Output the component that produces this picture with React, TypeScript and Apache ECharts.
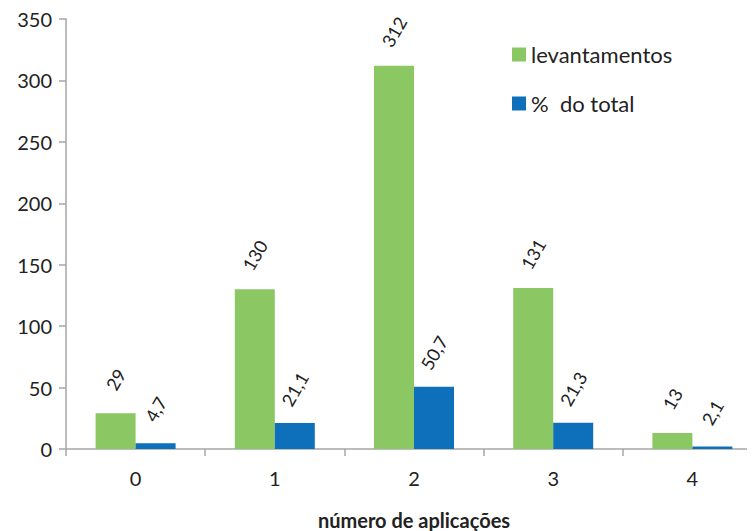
import React, { useEffect, useRef } from "react";
import * as echarts from "echarts";

const categories = ["0", "1", "2", "3", "4"];
const levantamentos = [29, 130, 312, 131, 13];
const percentTotal = [4.7, 21.1, 50.7, 21.3, 2.1];
const yTicks = { min: 0, max: 350, interval: 50 };

const FONT = "Lato, 'Open Sans', sans-serif";

export default function App() {
  const ref = useRef<HTMLDivElement>(null);
  useEffect(() => {
    if (!ref.current) return;
    const chart = echarts.init(ref.current, null, { renderer: "svg" });
    const labelCfg = (fmt: (v: number) => string) => ({
      show: true,
      position: "top",
      distance: 34,
      rotate: 60,
      align: "center",
      verticalAlign: "middle",
      fontFamily: FONT,
      fontSize: 18,
      color: "#222",
      formatter: (p: any) => fmt(p.value),
    });
    chart.setOption({
      animation: false,
      textStyle: { fontFamily: FONT },
      grid: { left: 58, top: 11, width: 696, height: 430, containLabel: false, outerBoundsMode: "none" },
      legend: {
        orient: "vertical",
        left: 504,
        top: 34,
        padding: 0,
        itemWidth: 14,
        itemHeight: 14,
        itemGap: 24,
        icon: "rect",
        textStyle: { fontFamily: FONT, fontSize: 22, lineHeight: 25, color: "#222" },
        data: ["levantamentos", "%  do total"],
      },
      xAxis: {
        type: "category",
        data: categories,
        name: "número de aplicações",
        nameLocation: "middle",
        nameGap: 61,
        nameTextStyle: { fontFamily: FONT, fontSize: 20, fontWeight: "bold", color: "#222" },
        axisLine: { lineStyle: { color: "#a6a6a6", width: 1.5 } },
        axisTick: { show: true, length: 7, lineStyle: { color: "#a6a6a6", width: 1.5 } },
        axisLabel: { fontFamily: FONT, fontSize: 20, color: "#222", margin: 19 },
      },
      yAxis: {
        type: "value",
        min: yTicks.min,
        max: yTicks.max,
        interval: yTicks.interval,
        axisLine: { show: true, lineStyle: { color: "#a6a6a6", width: 1.5 } },
        axisTick: { show: true, length: 7, lineStyle: { color: "#a6a6a6", width: 1.5 } },
        splitLine: { show: false },
        axisLabel: { fontFamily: FONT, fontSize: 20, color: "#222", margin: 14 },
      },
      series: [
        {
          name: "levantamentos",
          type: "bar",
          data: levantamentos,
          barWidth: 40,
          barGap: "0%",
          itemStyle: { color: "#8BC763" },
          label: labelCfg((v) => String(v)),
        },
        {
          name: "%  do total",
          type: "bar",
          data: percentTotal,
          barWidth: 40,
          barGap: "0%",
          itemStyle: { color: "#0E70BA" },
          label: labelCfg((v) => String(v).replace(".", ",")),
        },
      ],
    });
    return () => chart.dispose();
  }, []);
  return <div ref={ref} style={{ width: 755, height: 530 }} />;
}
